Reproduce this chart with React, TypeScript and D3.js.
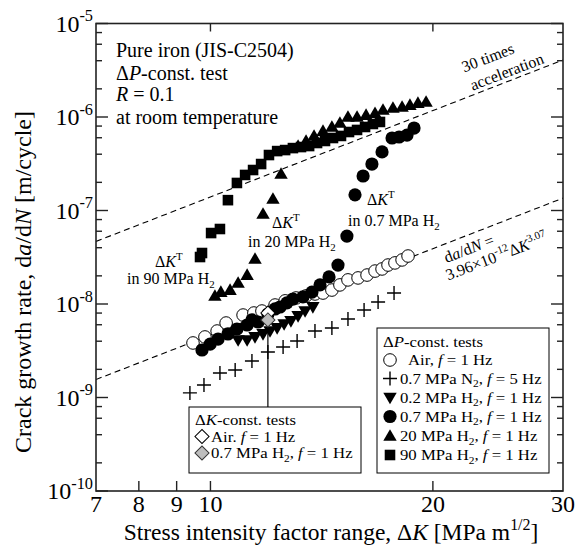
import React from 'react';
import * as d3 from 'd3';

// ΔP-const. tests: ΔK [MPa m^1/2] and da/dN [m/cycle]
const airK = [9.47, 9.83, 10.21, 10.5, 11.07, 11.45, 11.74, 12.23, 12.62, 13.06, 13.47, 13.85, 14.2, 14.6, 14.97, 15.35, 15.84, 16.29, 16.7, 17.07, 17.39, 17.77, 18.17, 18.51];
const airRate = [3.83e-9, 4.44e-9, 5.14e-9, 6.26e-9, 7.62e-9, 8.01e-9, 8.41e-9, 9.75e-9, 1.08e-8, 1.16e-8, 1.22e-8, 1.28e-8, 1.31e-8, 1.41e-8, 1.6e-8, 1.81e-8, 1.9e-8, 2.04e-8, 2.25e-8, 2.37e-8, 2.61e-8, 2.75e-8, 2.96e-8, 3.26e-8];

const n2K = [9.38, 9.8, 10.3, 10.8, 11.38, 11.96, 12.54, 13.1, 13.85, 14.6, 15.35, 16.14, 16.86, 17.72];
const n2Rate = [1.12e-9, 1.36e-9, 1.83e-9, 1.97e-9, 2.46e-9, 3.07e-9, 3.47e-9, 4.02e-9, 5.14e-9, 5.54e-9, 6.92e-9, 8.63e-9, 1.05e-8, 1.31e-8];

const h02K = [10.9, 11.21, 11.49, 11.78, 12.04, 12.31, 12.58, 12.85, 13.14, 13.43, 13.76];
const h02Rate = [4.12e-9, 4.12e-9, 4.44e-9, 4.78e-9, 5.14e-9, 5.54e-9, 6.11e-9, 6.58e-9, 7.45e-9, 8.41e-9, 9.29e-9];

const h07K = [9.74, 9.99, 10.24, 10.56, 10.86, 11.21, 11.38, 11.6, 11.96, 12.23, 12.42, 12.69, 12.93, 13.34, 13.72, 14.07, 14.47, 14.88, 15.3, 15.69, 16.09, 16.54, 17.07, 17.61, 18.0, 18.45, 18.86];
const h07Rate = [3.22e-9, 3.73e-9, 4.22e-9, 4.78e-9, 5.4e-9, 5.96e-9, 6.75e-9, 6.42e-9, 7.81e-9, 8.85e-9, 9.29e-9, 1.03e-8, 1.13e-8, 1.19e-8, 1.34e-8, 1.6e-8, 1.95e-8, 2.61e-8, 5.33e-8, 1.47e-7, 2.34e-7, 3.14e-7, 4.23e-7, 5.96e-7, 6.11e-7, 6.41e-7, 7.62e-7];

const h20K = [10.14, 10.33, 10.63, 10.9, 11.21, 11.49, 11.78, 12.15, 12.46, 13.14, 13.47, 13.81, 14.2, 14.6, 14.97, 15.35, 15.79, 16.24, 16.7, 17.12, 17.66, 18.17, 18.62, 19.09, 19.58];
const h20Rate = [1.22e-8, 1.34e-8, 1.41e-8, 1.68e-8, 2.04e-8, 3.03e-8, 9.18e-8, 1.33e-7, 2.46e-7, 4.89e-7, 5.54e-7, 6.27e-7, 7.08e-7, 7.82e-7, 8.63e-7, 1.0e-6, 1.0e-6, 1.05e-6, 1.1e-6, 1.19e-6, 1.25e-6, 1.28e-6, 1.34e-6, 1.41e-6, 1.45e-6];

const h90K = [9.68, 9.74, 10.02, 10.3, 10.56, 10.86, 11.14, 11.42, 11.71, 12.0, 12.31, 12.62, 12.93, 13.26, 13.6, 13.94, 14.29, 14.65, 15.02, 15.4, 15.79, 16.19, 16.59, 16.96];
const h90Rate = [3.18e-8, 3.51e-8, 5.74e-8, 6.34e-8, 1.29e-7, 1.97e-7, 2.4e-7, 2.71e-7, 3.14e-7, 3.92e-7, 4.32e-7, 4.43e-7, 4.65e-7, 4.77e-7, 4.89e-7, 5.27e-7, 5.54e-7, 5.96e-7, 6.27e-7, 6.91e-7, 7.27e-7, 7.82e-7, 8.42e-7, 8.85e-7];

// ΔK-const. tests
const dkAirK = [11.96];
const dkAirRate = [8.01e-9];
const dkH2K = [11.96];
const dkH2Rate = [6.75e-9];

// Paris-law fit in air and the 30x line
const fitCoef = 3.96e-12;
const fitExp = 3.07;
const accelFactor = 30;

const xTickValues = [7, 8, 9, 10, 20, 30];
const xBottomMarks = [8, 9, 10, 20];
const xTopMarks = [10, 20];
const yTickExps = [-10, -9, -8, -7, -6, -5];
const yMinorMult = [2, 4, 6, 8];

const FONT = '"Liberation Serif", "Times New Roman", Times, serif';

type Seg = { t: string; i?: boolean; sup?: boolean; sub?: boolean };

function Rich({ segs, size }: { segs: Seg[]; size: number }) {
  let off = 0;
  return (
    <>
      {segs.map((s, k) => {
        const target = s.sup ? -size * 0.42 : s.sub ? size * 0.25 : 0;
        const dy = target - off;
        off = target;
        return (
          <tspan key={k} dy={dy} fontStyle={s.i ? 'italic' : 'normal'} fontSize={s.sup || s.sub ? size * 0.68 : size}>
            {s.t}
          </tspan>
        );
      })}
    </>
  );
}

type Kind = 'open' | 'plus' | 'down' | 'dot' | 'up' | 'square' | 'diaOpen' | 'diaGrey';

const triPath = d3.symbol().type(d3.symbolTriangle).size(78)() as string;
const sqPath = d3.symbol().type(d3.symbolSquare).size(112)() as string;
const diaPath = d3.symbol().type(d3.symbolSquare).size(100)() as string;

function Marker({ kind, cx, cy }: { kind: Kind; cx: number; cy: number }) {
  switch (kind) {
    case 'open':
      return <circle cx={cx} cy={cy} r={6.3} fill="#fff" stroke="#000" strokeWidth={1} />;
    case 'dot':
      return <circle cx={cx} cy={cy} r={6.6} fill="#000" />;
    case 'plus':
      return <path d={`M${cx - 7},${cy}h14M${cx},${cy - 7}v14`} stroke="#000" strokeWidth={1.4} fill="none" />;
    case 'up':
      return <path d={triPath} transform={`translate(${cx},${cy + 1})`} fill="#000" />;
    case 'down':
      return <path d={triPath} transform={`translate(${cx},${cy - 1}) rotate(180)`} fill="#000" />;
    case 'square':
      return <path d={sqPath} transform={`translate(${cx},${cy})`} fill="#000" />;
    case 'diaOpen':
      return <path d={diaPath} transform={`translate(${cx},${cy}) rotate(45)`} fill="#fff" stroke="#000" strokeWidth={1} />;
    default:
      return <path d={diaPath} transform={`translate(${cx},${cy}) rotate(45)`} fill="#bdbdbd" stroke="#333" strokeWidth={1} />;
  }
}

// legend text, slightly widened like the figure's lettering
function LegendText({ x, y, segs, size }: { x: number; y: number; segs: Seg[]; size: number }) {
  return (
    <text transform={`translate(${x},${y}) scale(1.08,1)`} fontSize={size}>
      <Rich size={size} segs={segs} />
    </text>
  );
}

export default function App() {
  const L = 96, T = 23.5, R = 563, B = 491;
  const x = d3.scaleLog().domain([7, 30]).range([L, R]);
  const y = d3.scaleLog().domain([1e-10, 1e-5]).range([B, T]);

  const fitLine = d3.line<number>().x((k) => x(k)).y((k) => y(fitCoef * Math.pow(k, fitExp)));
  const accLine = d3.line<number>().x((k) => x(k)).y((k) => y(accelFactor * fitCoef * Math.pow(k, fitExp)));
  const kSpan = [7, 30];

  const series: { kind: Kind; k: number[]; r: number[] }[] = [
    { kind: 'plus', k: n2K, r: n2Rate },
    { kind: 'open', k: airK, r: airRate },
    { kind: 'down', k: h02K, r: h02Rate },
    { kind: 'dot', k: h07K, r: h07Rate },
    { kind: 'up', k: h20K, r: h20Rate },
    { kind: 'square', k: h90K, r: h90Rate },
  ];

  const minorY: number[] = [];
  yTickExps.slice(0, -1).forEach((e) => yMinorMult.forEach((m) => minorY.push(m * Math.pow(10, e))));

  const px = x(dkH2K[0]);
  const legendTop = 407;

  const fs = 15.5;
  const rightRows: { kind: Kind; segs: Seg[]; dx: number }[] = [
    { kind: 'open', dx: 408, segs: [{ t: 'Air, ' }, { t: 'f', i: true }, { t: ' = 1 Hz' }] },
    { kind: 'plus', dx: 400, segs: [{ t: '0.7 MPa N' }, { t: '2', sub: true }, { t: ', ' }, { t: 'f', i: true }, { t: ' = 5 Hz' }] },
    { kind: 'down', dx: 400, segs: [{ t: '0.2 MPa H' }, { t: '2', sub: true }, { t: ', ' }, { t: 'f', i: true }, { t: ' = 1 Hz' }] },
    { kind: 'dot', dx: 400, segs: [{ t: '0.7 MPa H' }, { t: '2', sub: true }, { t: ', ' }, { t: 'f', i: true }, { t: ' = 1 Hz' }] },
    { kind: 'up', dx: 400, segs: [{ t: '20 MPa H' }, { t: '2', sub: true }, { t: ', ' }, { t: 'f', i: true }, { t: ' = 1 Hz' }] },
    { kind: 'square', dx: 400, segs: [{ t: '90 MPa H' }, { t: '2', sub: true }, { t: ', ' }, { t: 'f', i: true }, { t: ' = 1 Hz' }] },
  ];
  const rightBase = [365, 383.5, 402.5, 421.5, 441, 460];
  const leftRows: { kind: Kind; segs: Seg[] }[] = [
    { kind: 'diaOpen', segs: [{ t: 'Air. ' }, { t: 'f', i: true }, { t: ' = 1 Hz' }] },
    { kind: 'diaGrey', segs: [{ t: '0.7 MPa H' }, { t: '2', sub: true }, { t: ', ' }, { t: 'f', i: true }, { t: ' = 1 Hz' }] },
  ];
  const leftBase = [441.5, 458];

  const dkt: Seg[] = [{ t: 'Δ' }, { t: 'K', i: true }, { t: 'T', sup: true }];
  const inH2 = (p: string): Seg[] => [{ t: `in ${p} MPa H` }, { t: '2', sub: true }];

  return (
    <svg width={582} height={545} style={{ position: 'absolute', left: 0, top: 0, background: '#fff' }} fontFamily={FONT}>
      <defs>
        <clipPath id="plot">
          <rect x={L} y={T} width={R - L} height={B - T} />
        </clipPath>
      </defs>
      <rect width={582} height={545} fill="#fff" />

      {/* dashed reference lines */}
      <g clipPath="url(#plot)" fill="none" stroke="#000" strokeWidth={1.1} strokeDasharray="6,4">
        <path d={fitLine(kSpan) as string} />
        <path d={accLine(kSpan) as string} />
      </g>

      {/* pointer from ΔK-const. point to its legend */}
      <line x1={px} x2={px} y1={y(dkH2Rate[0])} y2={legendTop} stroke="#000" strokeWidth={1.2} />

      {series.map((s) => (
        <g key={s.kind}>
          {s.k.map((k, j) => (
            <Marker key={j} kind={s.kind} cx={x(k)} cy={y(s.r[j])} />
          ))}
        </g>
      ))}
      {dkAirK.map((k, j) => <Marker key={'a' + j} kind="diaOpen" cx={x(k)} cy={y(dkAirRate[j])} />)}
      {dkH2K.map((k, j) => <Marker key={'h' + j} kind="diaGrey" cx={x(k)} cy={y(dkH2Rate[j])} />)}

      {/* frame and ticks */}
      <rect x={L} y={T} width={R - L} height={B - T} fill="none" stroke="#222" strokeWidth={1.6} />
      <g stroke="#222" strokeWidth={1.4}>
        {yTickExps.map((e) => (
          <g key={e}>
            <line x1={L} x2={L + 12} y1={y(Math.pow(10, e))} y2={y(Math.pow(10, e))} />
            <line x1={R} x2={R - 12} y1={y(Math.pow(10, e))} y2={y(Math.pow(10, e))} />
          </g>
        ))}
        {minorY.map((v) => (
          <g key={v}>
            <line x1={L} x2={L + 6} y1={y(v)} y2={y(v)} />
            <line x1={R} x2={R - 6} y1={y(v)} y2={y(v)} />
          </g>
        ))}
        {xBottomMarks.map((v) => <line key={'b' + v} x1={x(v)} x2={x(v)} y1={B} y2={B - 10} />)}
        {xTopMarks.map((v) => <line key={'t' + v} x1={x(v)} x2={x(v)} y1={T} y2={T + 8} />)}
      </g>

      {/* tick labels */}
      <g fontSize={24} fill="#000">
        {yTickExps.map((e) => (
          <text key={e} x={93} y={y(Math.pow(10, e)) + 8} textAnchor="end">
            <Rich size={24} segs={[{ t: '10' }, { t: String(e), sup: true }]} />
          </text>
        ))}
        {xTickValues.map((v) => (
          <text key={v} x={x(v)} y={512} textAnchor="middle">{v}</text>
        ))}
      </g>

      {/* axis titles */}
      <text x={331} y={540} textAnchor="middle" fontSize={23.5}>
        <Rich size={23.5} segs={[{ t: 'Stress intensity factor range, Δ' }, { t: 'K', i: true }, { t: ' [MPa m' }, { t: '1/2', sup: true }, { t: ']' }]} />
      </text>
      <text transform="translate(31,282) rotate(-90)" textAnchor="middle" fontSize={24}>
        <Rich size={24} segs={[{ t: 'Crack growth rate, d' }, { t: 'a', i: true }, { t: '/d' }, { t: 'N', i: true }, { t: ' [m/cycle]' }]} />
      </text>

      {/* conditions */}
      <g fontSize={20}>
        <text x={116} y={57}>Pure iron (JIS-C2504)</text>
        <text x={116} y={80}><Rich size={20} segs={[{ t: 'Δ' }, { t: 'P', i: true }, { t: '-const. test' }]} /></text>
        <text x={116} y={101}><Rich size={20} segs={[{ t: 'R', i: true }, { t: ' = 0.1' }]} /></text>
        <text x={116} y={124}>at room temperature</text>
      </g>

      {/* ΔK^T annotations */}
      <g fontSize={16}>
        <text x={155} y={267}><Rich size={16} segs={dkt} /></text>
        <text x={127} y={284}><Rich size={16} segs={inH2('90')} /></text>
        <text x={272} y={228}><Rich size={16} segs={dkt} /></text>
        <text x={248} y={247}><Rich size={16} segs={inH2('20')} /></text>
        <text x={367} y={205}><Rich size={16} segs={dkt} /></text>
        <text x={348} y={226}><Rich size={16} segs={inH2('0.7')} /></text>
      </g>

      {/* rotated line labels */}
      <g fontSize={16} transform="translate(488,58) rotate(-21)">
        <text x={0} y={5} textAnchor="middle">30 times</text>
        <text x={12.7} y={25} textAnchor="middle">acceleration</text>
      </g>
      <g fontSize={16} transform="translate(469,249) rotate(-21)">
        <text x={0} y={5} textAnchor="middle"><Rich size={16} segs={[{ t: 'd' }, { t: 'a', i: true }, { t: '/d' }, { t: 'N', i: true }, { t: ' =' }]} /></text>
        <text x={23} y={22} textAnchor="middle"><Rich size={16} segs={[{ t: '3.96×10' }, { t: '-12', sup: true }, { t: 'Δ' }, { t: 'K', i: true }, { t: '3.07', sup: true }]} /></text>
      </g>

      {/* ΔP-const. legend */}
      <rect x={377} y={328} width={172} height={145} fill="#fff" stroke="#000" strokeWidth={1} />
      <LegendText x={383} y={347} size={fs} segs={[{ t: 'Δ' }, { t: 'P', i: true }, { t: '-const. tests' }]} />
      {rightRows.map((r, j) => (
        <g key={j}>
          <Marker kind={r.kind} cx={390} cy={rightBase[j] - 5} />
          <LegendText x={r.dx} y={rightBase[j]} size={fs} segs={r.segs} />
        </g>
      ))}

      {/* ΔK-const. legend */}
      <rect x={189} y={legendTop} width={172} height={66} fill="#fff" stroke="#000" strokeWidth={1} />
      <LegendText x={195} y={425} size={fs} segs={[{ t: 'Δ' }, { t: 'K', i: true }, { t: '-const. tests' }]} />
      {leftRows.map((r, j) => (
        <g key={j}>
          <Marker kind={r.kind} cx={202} cy={leftBase[j] - 5} />
          <LegendText x={211} y={leftBase[j]} size={fs} segs={r.segs} />
        </g>
      ))}
    </svg>
  );
}
